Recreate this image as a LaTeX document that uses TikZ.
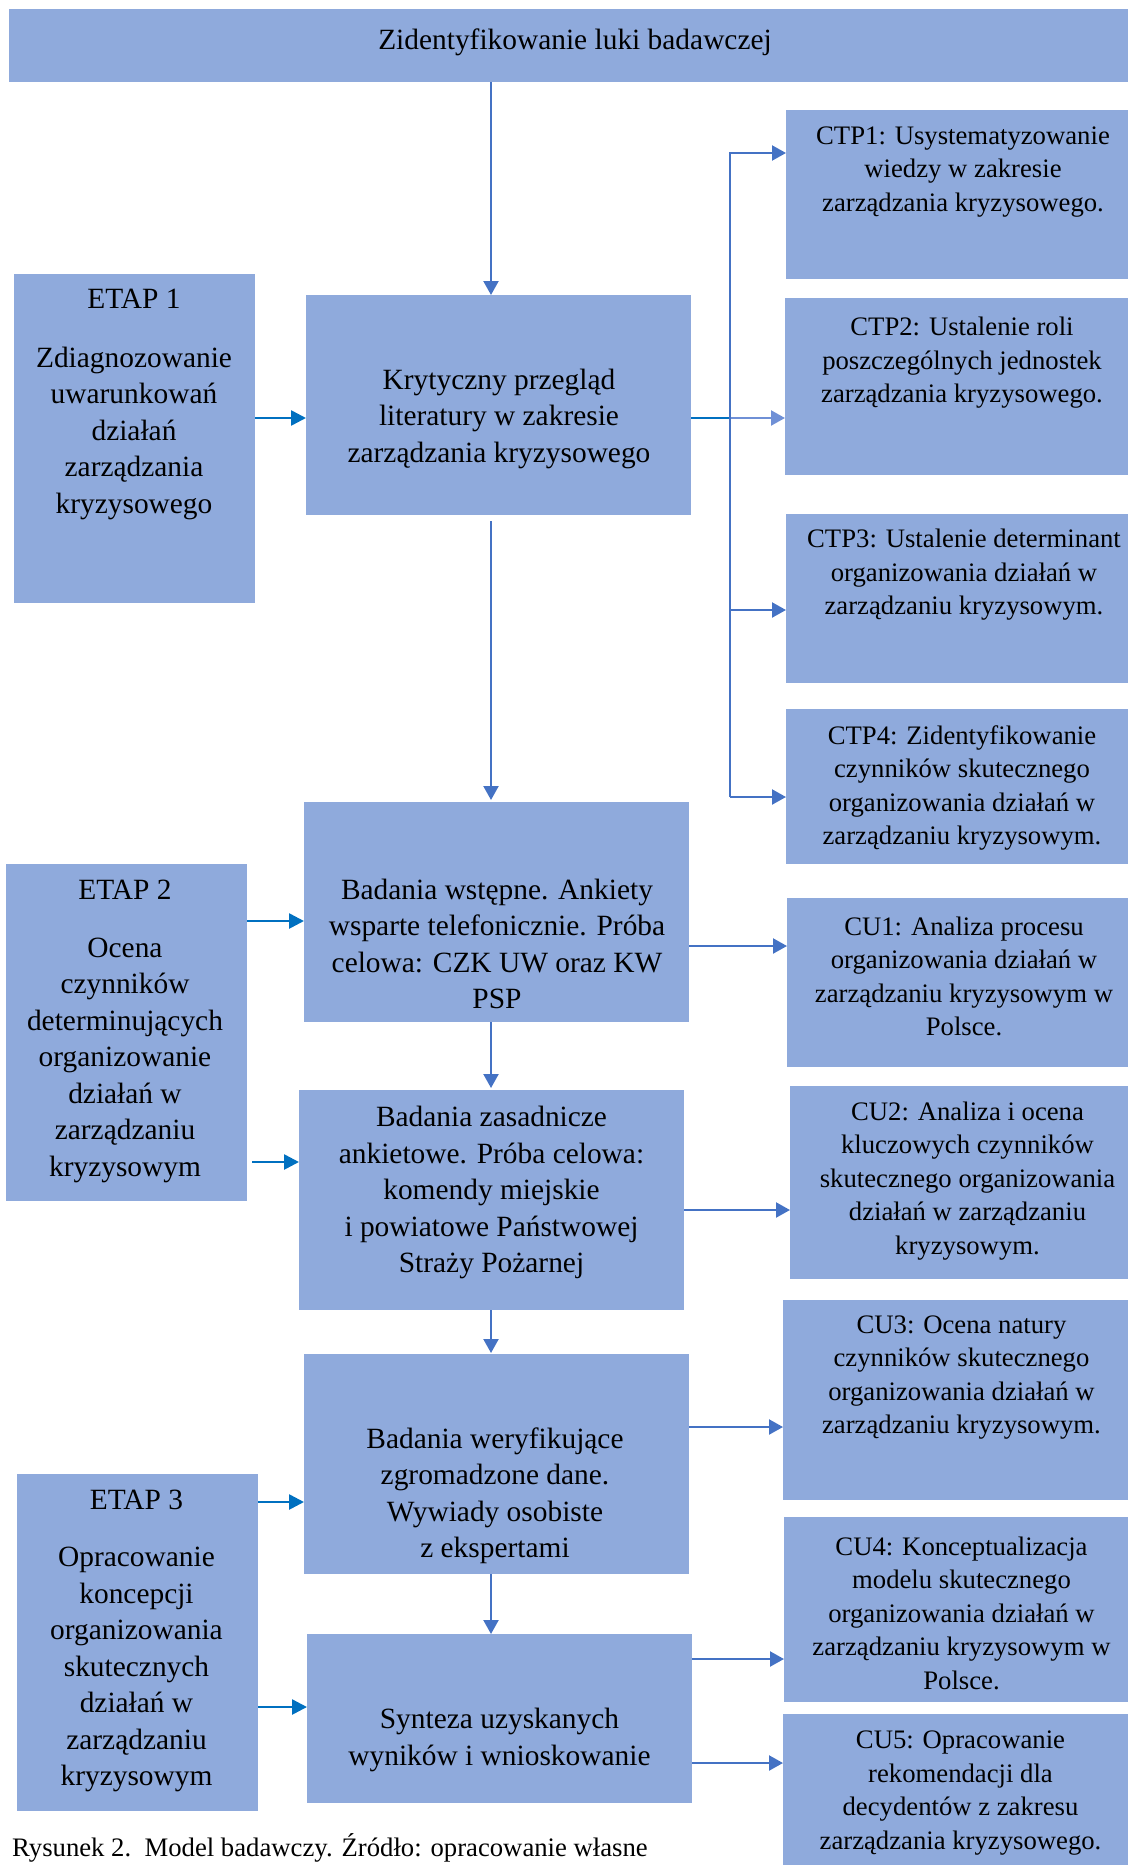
\documentclass[tikz,border=0pt]{standalone}
\usepackage{fontspec}
\setmainfont{Liberation Serif}
\usetikzlibrary{arrows.meta}
\definecolor{boxfill}{HTML}{8FAADC}
\definecolor{arrblue}{HTML}{4472C4}
\definecolor{etapblue}{HTML}{0070C0}
\definecolor{lightarr}{HTML}{6F90D6}
\tikzset{
  box/.style={rectangle, fill=boxfill, draw=none, inner sep=0pt, outer sep=0pt},
  bigtxt/.style={align=center, inner sep=0pt, font=\fontsize{29.4}{36.5}\selectfont},
  smalltxt/.style={align=center, inner sep=0pt, font=\fontsize{26.7}{33.5}\selectfont},
  arr/.style={draw=arrblue, line width=2.2pt, -{Triangle[length=14pt,width=15pt]}},
  etaparr/.style={draw=etapblue, line width=2.6pt, -{Triangle[length=15pt,width=15pt]}},
  plainline/.style={draw=arrblue, line width=2.2pt},
}
\begin{document}
\begin{tikzpicture}[x=1pt,y=-1pt]
\useasboundingbox (0,0) rectangle (1128,1865);
% boxes
\node[box, minimum width=1119pt, minimum height=73pt] (top) at (568.5,45.5) {};
\node[box, minimum width=385pt, minimum height=220pt] (kryt) at (498.5,405) {};
\node[box, minimum width=241pt, minimum height=329pt] (etap1) at (134.5,438.5) {};
\node[box, minimum width=342pt, minimum height=169pt] (ctp1) at (957,194.5) {};
\node[box, minimum width=343pt, minimum height=177pt] (ctp2) at (956.5,386.5) {};
\node[box, minimum width=342pt, minimum height=169pt] (ctp3) at (957,598.5) {};
\node[box, minimum width=342pt, minimum height=155pt] (ctp4) at (957,786.5) {};
\node[box, minimum width=385pt, minimum height=220pt] (bw) at (496.5,912) {};
\node[box, minimum width=241pt, minimum height=337pt] (etap2) at (126.5,1032.5) {};
\node[box, minimum width=341pt, minimum height=169pt] (cu1) at (957.5,982.5) {};
\node[box, minimum width=385pt, minimum height=220pt] (bz) at (491.5,1200) {};
\node[box, minimum width=338pt, minimum height=193pt] (cu2) at (959,1182.5) {};
\node[box, minimum width=385pt, minimum height=220pt] (bwer) at (496.5,1464) {};
\node[box, minimum width=345pt, minimum height=200pt] (cu3) at (955.5,1400) {};
\node[box, minimum width=241pt, minimum height=337pt] (etap3) at (137.5,1642.5) {};
\node[box, minimum width=385pt, minimum height=169pt] (syn) at (499.5,1718.5) {};
\node[box, minimum width=344pt, minimum height=185pt] (cu4) at (956,1609.5) {};
\node[box, minimum width=345pt, minimum height=151pt] (cu5) at (955.5,1789.5) {};
% texts
\node[bigtxt] (topt) at (575,42) {Zidentyfikowanie luki badawczej};
\node[bigtxt] (krytt) at (499,418.5) {Krytyczny przegląd\\literatury w zakresie\\zarządzania kryzysowego};
\node[bigtxt] (etap1t) at (134,404.5) {ETAP 1\\[22pt]Zdiagnozowanie\\uwarunkowań\\działań\\zarządzania\\kryzysowego};
\node[smalltxt] (ctp1t) at (963,172) {CTP1: Usystematyzowanie\\wiedzy w zakresie\\zarządzania kryzysowego.};
\node[smalltxt] (ctp2t) at (962,363) {CTP2: Ustalenie roli\\poszczególnych jednostek\\zarządzania kryzysowego.};
\node[smalltxt] (ctp3t) at (964,575) {CTP3: Ustalenie determinant\\organizowania działań w\\zarządzaniu kryzysowym.};
\node[smalltxt] (ctp4t) at (962,788) {CTP4: Zidentyfikowanie\\czynników skutecznego\\organizowania działań w\\zarządzaniu kryzysowym.};
\node[bigtxt] (bwt) at (497,944) {Badania wstępne. Ankiety\\wsparte telefonicznie. Próba\\celowa: CZK UW oraz KW\\PSP};
\node[bigtxt] (etap2t) at (125,1031.5) {ETAP 2\\[21pt]Ocena\\czynników\\determinujących\\organizowanie\\działań w\\zarządzaniu\\kryzysowym};
\node[smalltxt] (cu1t) at (964,976.5) {CU1: Analiza procesu\\organizowania działań w\\zarządzaniu kryzysowym w\\Polsce.};
\node[bigtxt] (bzt) at (491.5,1192.5) {Badania zasadnicze\\ankietowe. Próba celowa:\\komendy miejskie\\i powiatowe Państwowej\\Straży Pożarnej};
\node[smalltxt] (cu2t) at (967.5,1181) {CU2: Analiza i ocena\\kluczowych czynników\\skutecznego organizowania\\działań w zarządzaniu\\kryzysowym.};
\node[smalltxt] (cu3t) at (961.5,1377.5) {CU3: Ocena natury\\czynników skutecznego\\organizowania działań w\\zarządzaniu kryzysowym.};
\node[bigtxt] (bwert) at (495,1496) {Badania weryfikujące\\zgromadzone dane.\\Wywiady osobiste\\z ekspertami};
\node[bigtxt] (etap3t) at (136.5,1641) {ETAP 3\\[21pt]Opracowanie\\koncepcji\\organizowania\\skutecznych\\działań w\\zarządzaniu\\kryzysowym};
\node[smalltxt] (cu4t) at (961.5,1613) {CU4: Konceptualizacja\\modelu skutecznego\\organizowania działań w\\zarządzaniu kryzysowym w\\Polsce.};
\node[bigtxt] (synt) at (499.5,1740) {Synteza uzyskanych\\wyników i wnioskowanie};
\node[smalltxt] (cu5t) at (960.5,1793) {CU5: Opracowanie\\rekomendacji dla\\decydentów z zakresu\\zarządzania kryzysowego.};
\node[smalltxt, anchor=base west] (cap) at (12,1856) {Rysunek 2.\ \ Model badawczy. Źródło: opracowanie własne};
% helper coordinates
\coordinate (vx) at (491,0);
\coordinate (tx) at (730,0);
% vertical flow
\draw[arr] (top.south -| vx) -- (kryt.north -| vx);
\draw[arr] ([yshift=-6pt]kryt.south -| vx) -- ([yshift=2pt]bw.north -| vx);
\draw[arr] (bw.south -| vx) -- ([yshift=2pt]bz.north -| vx);
\draw[arr] (bz.south -| vx) -- ([yshift=1pt]bwer.north -| vx);
\draw[arr] (bwer.south -| vx) -- (syn.north -| vx);
% trunk to CTP boxes
\draw[draw=etapblue, line width=2.6pt] (kryt.east |- 0,418) -- (tx |- 0,418);
\draw[arr, draw=lightarr] (tx |- 0,418) -- (ctp2.west |- 0,418);
\draw[arr] (tx |- 0,797) -- (tx |- 0,153) -- (ctp1.west |- 0,153);
\draw[arr] (tx |- 0,610) -- (ctp3.west |- 0,610);
\draw[arr] (tx |- 0,797) -- (ctp4.west |- 0,797);
% right arrows
\draw[arr] (bw.east |- 0,946) -- (cu1.west |- 0,946);
\draw[arr] (bz.east |- 0,1210) -- (cu2.west |- 0,1210);
\draw[arr] (bwer.east |- 0,1427) -- (cu3.west |- 0,1427);
\draw[arr] (syn.east |- 0,1659) -- (cu4.west |- 0,1659);
\draw[arr] (syn.east |- 0,1763) -- (cu5.west |- 0,1763);
% etap arrows
\draw[etaparr] (etap1.east |- 0,418) -- (kryt.west |- 0,418);
\draw[etaparr] (etap2.east |- 0,921) -- (bw.west |- 0,921);
\draw[etaparr] ([xshift=5pt]etap2.east |- 0,1162) -- (bz.west |- 0,1162);
\draw[etaparr] (etap3.east |- 0,1502) -- (bwer.west |- 0,1502);
\draw[etaparr] (etap3.east |- 0,1707) -- (syn.west |- 0,1707);
\end{tikzpicture}
\end{document}
